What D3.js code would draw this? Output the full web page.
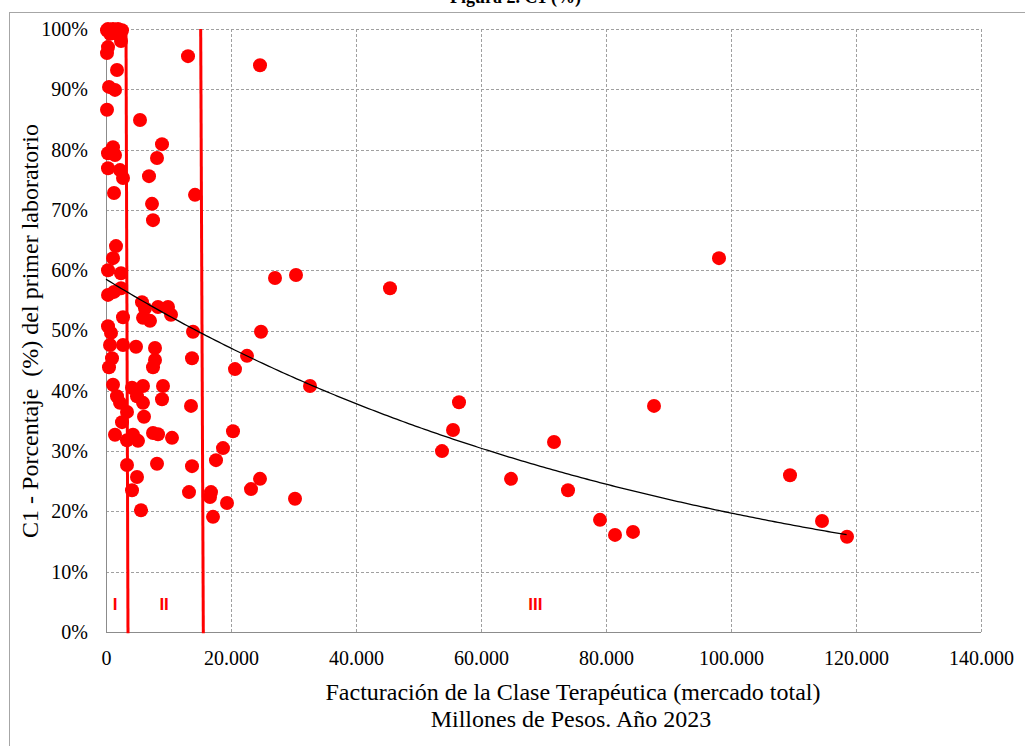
<!DOCTYPE html>
<html><head><meta charset="utf-8">
<script src="https://cdn.jsdelivr.net/npm/d3@7"></script>
<style>
body{margin:0;background:#fff;}
svg{display:block;}
</style></head>
<body>
<svg id="chart" width="1025" height="746"></svg>
<script>
// Data: x = Facturación (millones de pesos), y = C1 (%)
const salesX = [160,1120,1920,2560,640,1440,320,2400,320,160,1760,480,1440,160,1120,320,1440,320,2240,2720,1280,1600,1120,320,2400,2400,1280,320,2720,320,800,640,2720,960,480,1120,1760,2240,3360,2560,1440,3360,3360,
4160,4960,5920,5920,6080,4320,5120,7520,8320,10560,8960,9120,4960,4160,5600,8160,5440,8960,8160,6880,7360,7520,14240,13120,24640,5760,6240,8320,9920,10400,5920,7040,13920,4800,7840,7840,7520,13760,13600,13760,13280,
16800,16640,17120,17600,18720,19360,20320,20640,22560,24800,23200,24640,27040,30400,30240,32640,45440,56480,55520,53760,64800,71680,73920,79040,81440,84320,87680,98080,109440,114560,118560];
const shareY = [99.8,100,100,99.8,99.2,99.3,100,98.0,97.0,96.0,93.2,90.4,89.9,86.6,80.4,79.4,79.1,76.9,76.6,75.3,72.8,64.0,62.0,60.0,59.5,57.0,56.4,55.9,52.2,50.7,49.6,47.6,47.6,45.4,43.9,41.0,39.1,38.0,36.5,34.8,32.7,31.8,27.7,
40.5,39.1,40.8,38.0,35.7,32.7,31.7,33.0,32.8,32.2,38.6,40.8,25.7,23.5,20.2,27.9,84.9,80.9,78.6,75.6,71.0,68.3,72.5,95.5,94.0,54.7,53.7,53.9,53.9,52.6,52.1,51.6,49.8,47.3,47.1,45.1,43.9,45.4,37.5,27.5,23.2,
23.2,22.4,19.1,28.5,30.5,21.4,33.3,43.6,45.8,49.8,23.7,25.4,58.7,59.2,22.1,40.8,57.0,38.1,33.5,30.0,25.4,31.5,23.5,18.6,16.1,16.6,37.5,62.0,26.0,18.4,15.8];

const xTicks = [0,20000,40000,60000,80000,100000,120000,140000];
const xTickLabels = ["0","20.000","40.000","60.000","80.000","100.000","120.000","140.000"];
const yTicks = [0,10,20,30,40,50,60,70,80,90,100];
const yTickLabels = ["0%","10%","20%","30%","40%","50%","60%","70%","80%","90%","100%"];

// Segment boundaries (hand-drawn, slightly slanted): [xTop, xBottom]
const boundaryI = [3200, 3520];
const boundaryII = [15150, 15570];
const segmentLabels = ["I","II","III"];
const segmentLabelX = [1440, 9300, 68700];
const segmentLabelY = 4.6;

// Exponential trend line y = a*exp(b*x) (in %)
const trendA = 58.5, trendB = -1.087e-5, trendMaxX = 118560;

const titleText = "Figura 2. C1 (%)";

const svg = d3.select("#chart");
const L=106, R=981, T=29, B=632;
const x = d3.scaleLinear().domain([0,140000]).range([L,R]);
const y = d3.scaleLinear().domain([0,100]).range([B,T]);

// outer border
svg.append("rect").attr("x",9.5).attr("y",12.5).attr("width",1030).attr("height",760)
  .attr("fill","none").attr("stroke","#a6a6a6").attr("stroke-width",1);

// title (cut off at the top edge, as in the original)
svg.append("text").attr("x",581).attr("y",3).attr("text-anchor","end")
  .attr("font-family","Liberation Serif").attr("font-weight","bold").attr("font-size",18)
  .text(titleText);

// grid
const grid = svg.append("g");
yTicks.filter(d=>d>0).forEach(d=>{
  grid.append("line").attr("x1",L).attr("x2",R).attr("y1",Math.round(y(d))+0.5).attr("y2",Math.round(y(d))+0.5)
   .attr("stroke","#a0a0a0").attr("stroke-dasharray","3,2");
});
xTicks.filter(d=>d>0).forEach(d=>{
  grid.append("line").attr("y1",T).attr("y2",B).attr("x1",Math.round(x(d))+0.5).attr("x2",Math.round(x(d))+0.5)
   .attr("stroke","#a0a0a0").attr("stroke-dasharray","3,2");
});
// axis lines
svg.append("line").attr("x1",L+0.5).attr("x2",L+0.5).attr("y1",T).attr("y2",B).attr("stroke","#8c8c8c");
svg.append("line").attr("x1",L).attr("x2",R).attr("y1",B+0.5).attr("y2",B+0.5).attr("stroke","#8c8c8c");

// tick labels
const yAxis = d3.axisLeft(y).tickValues(yTicks).tickFormat((d,i)=>yTickLabels[i]).tickSize(0).tickPadding(18);
const gy = svg.append("g").attr("transform",`translate(${L},0)`).call(yAxis);
gy.select(".domain").remove();
gy.selectAll("text").attr("font-family","Liberation Serif").attr("font-size",20).attr("fill","#000");

const xAxis = d3.axisBottom(x).tickValues(xTicks).tickFormat((d,i)=>xTickLabels[i]).tickSize(0).tickPadding(19);
const gx = svg.append("g").attr("transform",`translate(0,${B})`).call(xAxis);
gx.select(".domain").remove();
gx.selectAll("text").attr("font-family","Liberation Serif").attr("font-size",20).attr("fill","#000");

// boundaries
[boundaryI,boundaryII].forEach(bd=>{
  svg.append("line").attr("x1",x(bd[0])).attr("x2",x(bd[1])).attr("y1",y(100)).attr("y2",y(-0.2))
    .attr("stroke","#ff0000").attr("stroke-width",3);
});

// points
svg.append("g").selectAll("circle").data(salesX.map((v,i)=>[v,shareY[i]])).join("circle")
  .attr("cx",d=>x(d[0])).attr("cy",d=>y(d[1])).attr("r",7).attr("fill","#ff0000");

// trend line
const trendPts = d3.range(0,trendMaxX+1,500).map(v=>[v,trendA*Math.exp(trendB*v)]);
svg.append("path").datum(trendPts)
  .attr("d",d3.line().x(d=>x(d[0])).y(d=>y(d[1])))
  .attr("fill","none").attr("stroke","#000").attr("stroke-width",1.3);

// segment labels
segmentLabels.forEach((t,i)=>{
  svg.append("text").attr("x",x(segmentLabelX[i])).attr("y",y(segmentLabelY)).attr("text-anchor","middle")
    .attr("dominant-baseline","central")
    .attr("font-family","Liberation Sans").attr("font-weight","bold").attr("font-size",17).attr("fill","#ff0000").text(t);
});

// axis titles
svg.append("text").attr("transform","translate(38,331) rotate(-90)").attr("text-anchor","middle")
  .attr("font-family","Liberation Serif").attr("font-size",24).style("white-space","pre")
  .text("C1 - Porcentaje  (%) del primer laboratorio");
svg.append("text").attr("x",573).attr("y",700).attr("text-anchor","middle")
  .attr("font-family","Liberation Serif").attr("font-size",24)
  .text("Facturación de la Clase Terapéutica (mercado total)");
svg.append("text").attr("x",571).attr("y",727).attr("text-anchor","middle")
  .attr("font-family","Liberation Serif").attr("font-size",24)
  .text("Millones de Pesos. Año 2023");
</script>
</body></html>
